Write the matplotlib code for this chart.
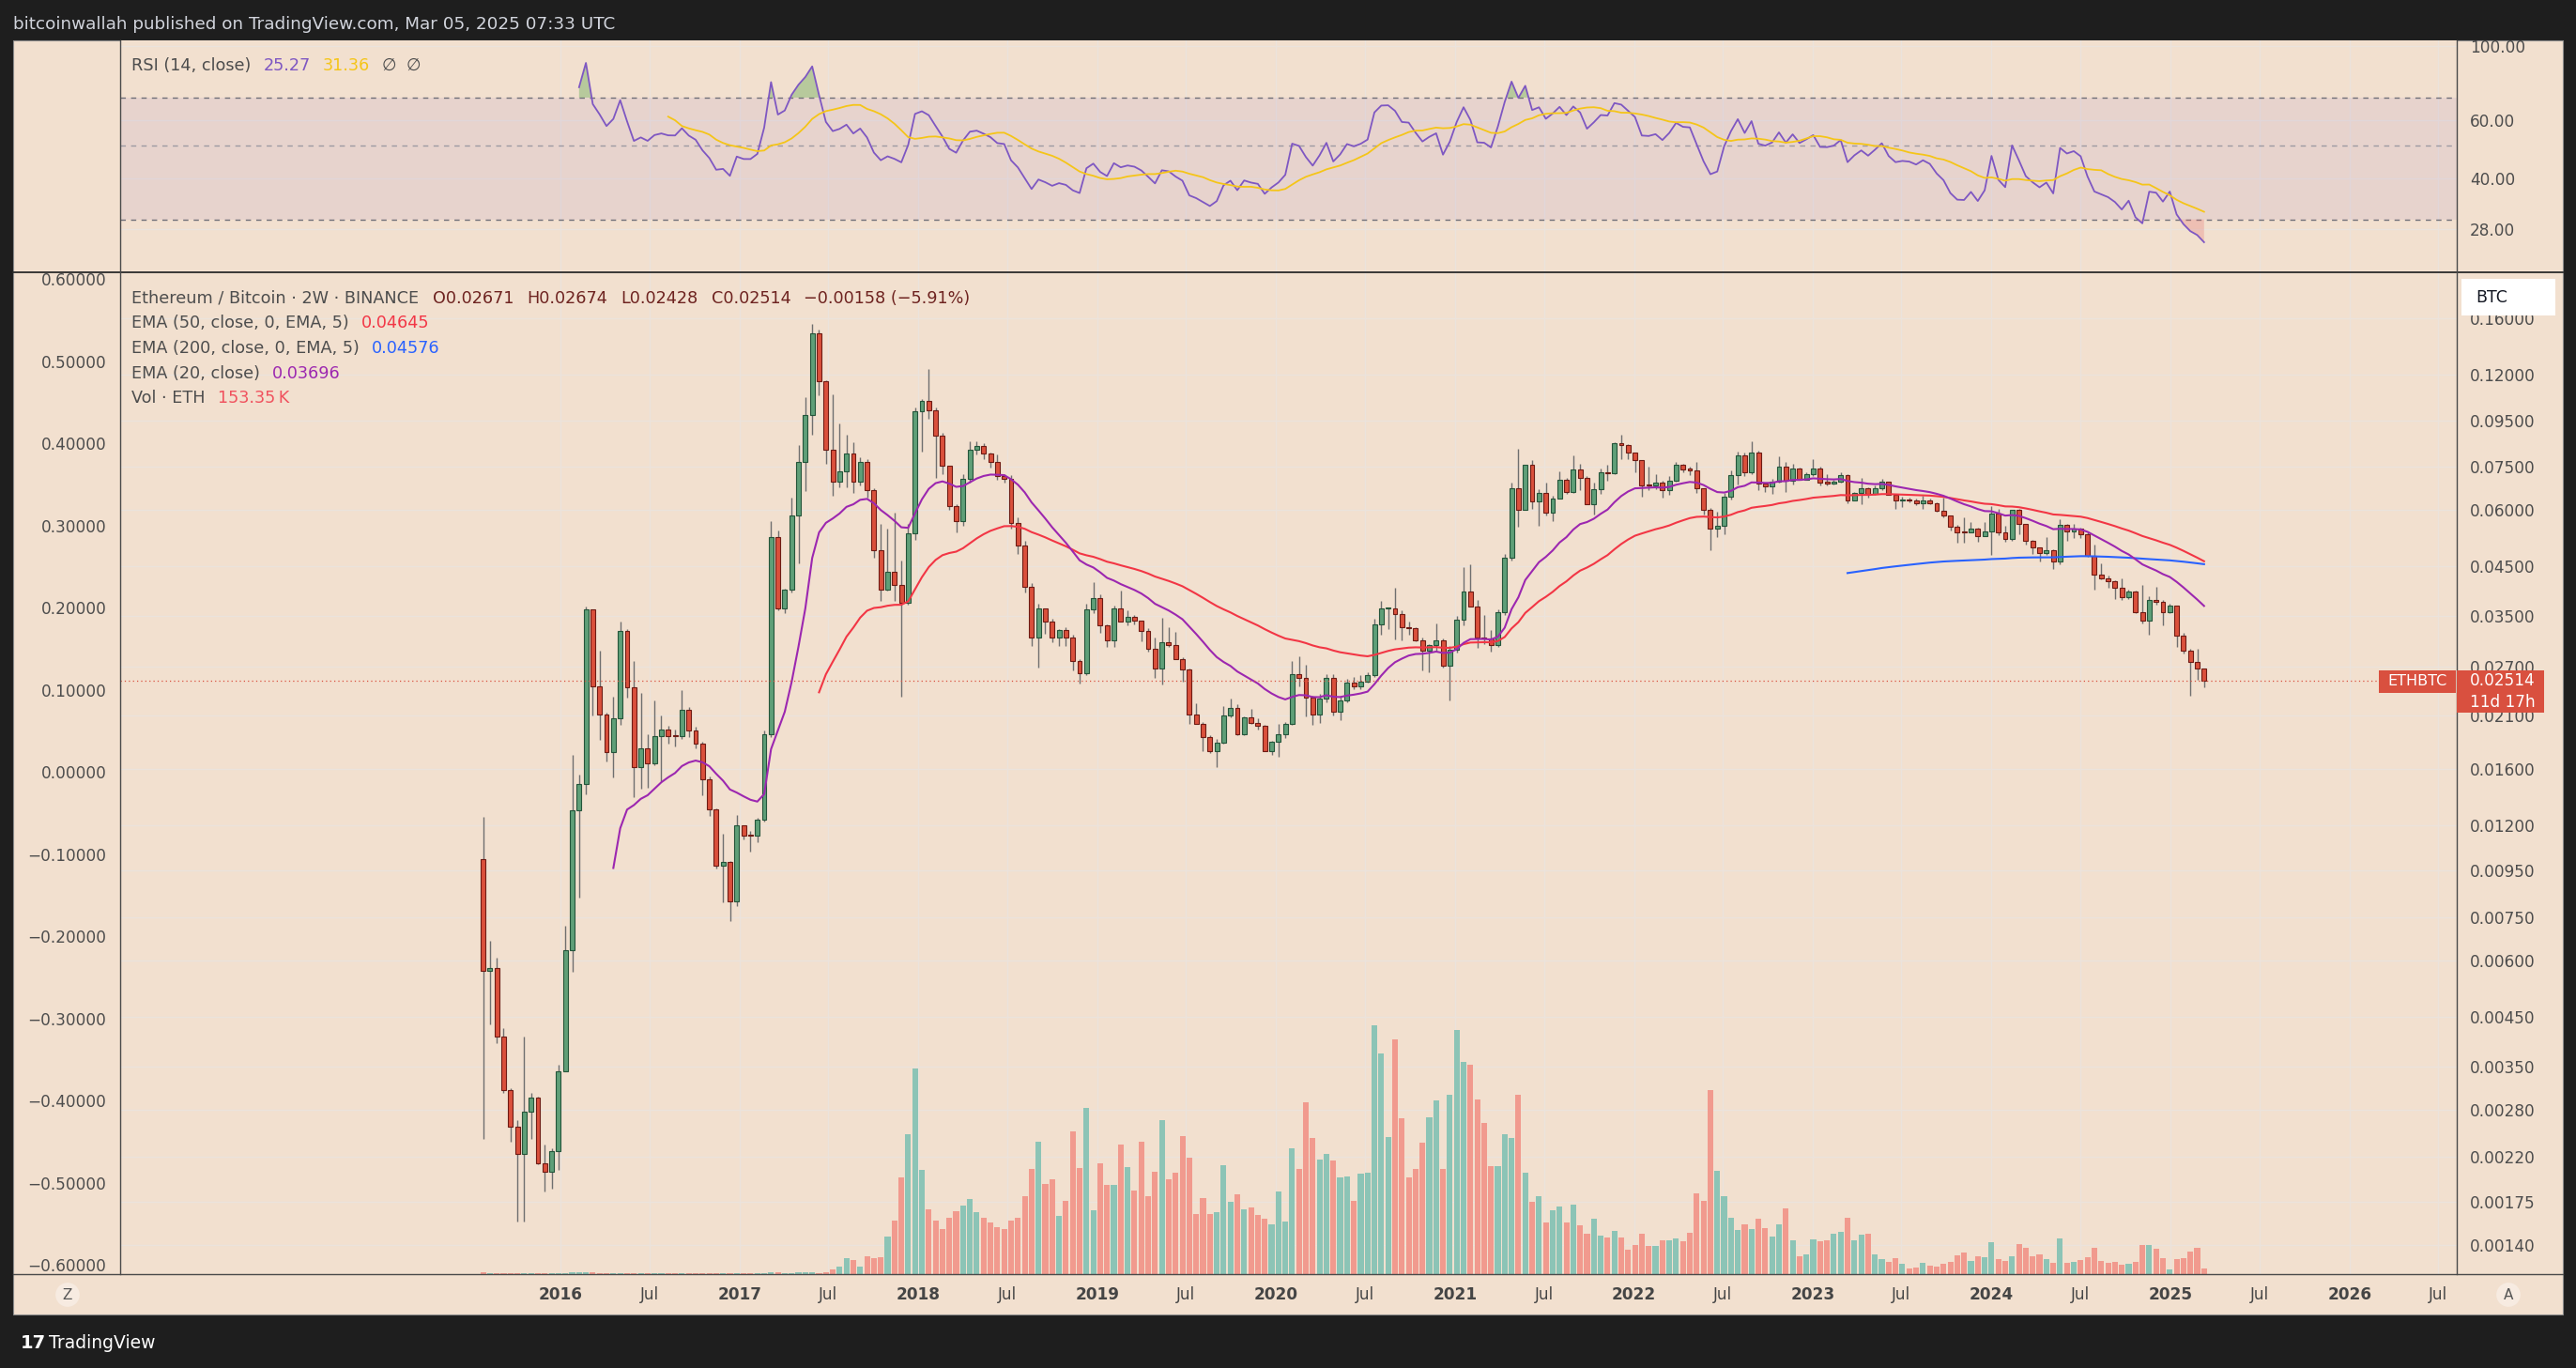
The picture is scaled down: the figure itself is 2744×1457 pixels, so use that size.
import numpy as np
import pandas as pd
import matplotlib
matplotlib.use("Agg")
import matplotlib.pyplot as plt
import matplotlib.dates as mdates
from matplotlib.patches import Rectangle
from matplotlib.lines import Line2D
from matplotlib.ticker import FixedLocator, NullLocator, FixedFormatter

# ---------------- data ----------------
first_bar_start = "2015-07-20"
bar_length_days = 14
first_open = 0.01007

close = [
    0.00569, 0.00577, 0.00407, 0.00309, 0.00257, 0.00224, 0.00277, 0.00298, 0.00213, 0.00204,
    0.00227, 0.00341, 0.00632, 0.01293, 0.01479, 0.03607, 0.02437, 0.02111, 0.01745, 0.02067,
    0.03240, 0.02426, 0.01618, 0.01779, 0.01643, 0.01889, 0.01959, 0.01894, 0.01890, 0.02161,
    0.01942, 0.01820, 0.01520, 0.01303, 0.00976, 0.00993, 0.00814, 0.01198, 0.01136, 0.01135,
    0.01235, 0.01908, 0.05223, 0.03630, 0.03996, 0.05839, 0.07680, 0.09760, 0.14830, 0.11590,
    0.08190, 0.06960, 0.07330, 0.08020, 0.06960, 0.07680, 0.06650, 0.04890, 0.03996, 0.04370,
    0.04100, 0.03747, 0.05337, 0.09930, 0.10480, 0.10020, 0.08770, 0.07550, 0.06130, 0.05690,
    0.07050, 0.08190, 0.08330, 0.08020, 0.07680, 0.07130, 0.07050, 0.05630, 0.05000, 0.04066,
    0.03124, 0.03630, 0.03404, 0.03130, 0.03250, 0.03130, 0.02776, 0.02603, 0.03607, 0.03828,
    0.03330, 0.03091, 0.03627, 0.03402, 0.03474, 0.03415, 0.03243, 0.02961, 0.02676, 0.03052,
    0.03008, 0.02808, 0.02655, 0.02116, 0.02017, 0.01880, 0.01752, 0.01829, 0.02098, 0.02181,
    0.01913, 0.02079, 0.02023, 0.01991, 0.01752, 0.01838, 0.01906, 0.02014, 0.02593, 0.02543,
    0.02300, 0.02112, 0.02295, 0.02551, 0.02140, 0.02274, 0.02491, 0.02443, 0.02495, 0.02580,
    0.03343, 0.03627, 0.03639, 0.03524, 0.03295, 0.03282, 0.03091, 0.02923, 0.03017, 0.03091,
    0.02707, 0.02946, 0.03429, 0.03961, 0.03668, 0.03126, 0.03116, 0.03008, 0.03569, 0.04707,
    0.06714, 0.06022, 0.07557, 0.06268, 0.06545, 0.05927, 0.06379, 0.07010, 0.06577, 0.07390,
    0.07067, 0.06198, 0.06672, 0.07273, 0.07249, 0.08439, 0.08359, 0.08044, 0.07742, 0.06823,
    0.06800, 0.06899, 0.06640, 0.06988, 0.07557, 0.07390, 0.07366, 0.06703, 0.06003, 0.05454,
    0.05533, 0.06420, 0.07169, 0.07930, 0.07273, 0.08044, 0.06867, 0.06769, 0.06932, 0.07486,
    0.06988, 0.07433, 0.07021, 0.07204, 0.07414, 0.06899, 0.06890, 0.06950, 0.07169, 0.06319,
    0.06545, 0.06714, 0.06524, 0.06714, 0.06932, 0.06503, 0.06298, 0.06330, 0.06310, 0.06228,
    0.06319, 0.06228, 0.05993, 0.05832, 0.05524, 0.05367, 0.05360, 0.05454, 0.05265, 0.05384,
    0.05899, 0.05350, 0.05173, 0.06003, 0.05586, 0.05132, 0.04955, 0.04814, 0.04892, 0.04611,
    0.05559, 0.05393, 0.05454, 0.05316, 0.04760, 0.04325, 0.04243, 0.04168, 0.04043, 0.03855,
    0.03961, 0.03558, 0.03413, 0.03787, 0.03763, 0.03558, 0.03680, 0.03156, 0.02923, 0.02759,
    0.02671, 0.02514,
]

high = [
    0.01252, 0.00665, 0.00610, 0.00425, 0.00312, 0.00265, 0.00407, 0.00306, 0.00299, 0.00234,
    0.00230, 0.00353, 0.00718, 0.01719, 0.01554, 0.03669, 0.03620, 0.02930, 0.02130, 0.02314,
    0.03404, 0.03276, 0.02776, 0.02364, 0.01908, 0.02275, 0.02102, 0.01990, 0.01960, 0.02389,
    0.02190, 0.01980, 0.01840, 0.01540, 0.01310, 0.01146, 0.01000, 0.01265, 0.01200, 0.01166,
    0.01245, 0.01950, 0.05690, 0.05400, 0.04010, 0.06402, 0.08370, 0.10710, 0.15580, 0.15090,
    0.11650, 0.10870, 0.09350, 0.08830, 0.08490, 0.07850, 0.07800, 0.06700, 0.05590, 0.05450,
    0.05940, 0.04640, 0.05600, 0.10150, 0.10600, 0.12360, 0.10160, 0.08930, 0.07550, 0.06180,
    0.07200, 0.08550, 0.08550, 0.08450, 0.08050, 0.07980, 0.07200, 0.07180, 0.05800, 0.05120,
    0.04130, 0.03720, 0.03630, 0.03440, 0.03270, 0.03300, 0.03180, 0.02800, 0.03720, 0.04155,
    0.03900, 0.03350, 0.03680, 0.03970, 0.03600, 0.03520, 0.03420, 0.03280, 0.03126, 0.03470,
    0.03295, 0.03220, 0.02830, 0.02670, 0.02234, 0.02030, 0.01900, 0.01860, 0.02210, 0.02290,
    0.02230, 0.02090, 0.02170, 0.02070, 0.02000, 0.01850, 0.02010, 0.02030, 0.02780, 0.02840,
    0.02730, 0.02330, 0.02350, 0.02600, 0.02600, 0.02330, 0.02540, 0.02560, 0.02580, 0.02620,
    0.03450, 0.03770, 0.03650, 0.04040, 0.03600, 0.03400, 0.03300, 0.03130, 0.03020, 0.03364,
    0.03120, 0.03000, 0.03500, 0.04487, 0.04557, 0.03800, 0.03510, 0.03250, 0.03620, 0.04800,
    0.06900, 0.08200, 0.07570, 0.07750, 0.06690, 0.06900, 0.06450, 0.07330, 0.07070, 0.07930,
    0.07600, 0.07150, 0.06900, 0.07410, 0.07570, 0.08490, 0.08813, 0.08410, 0.08060, 0.07760,
    0.07500, 0.07200, 0.06980, 0.07130, 0.07680, 0.07600, 0.07510, 0.07690, 0.06730, 0.06070,
    0.05960, 0.06550, 0.07350, 0.08110, 0.08050, 0.08535, 0.08130, 0.06900, 0.07040, 0.07900,
    0.07680, 0.07590, 0.07480, 0.07300, 0.07800, 0.07500, 0.07230, 0.07000, 0.07300, 0.07200,
    0.06580, 0.07070, 0.06760, 0.06800, 0.07050, 0.06950, 0.06520, 0.06420, 0.06410, 0.06380,
    0.06450, 0.06370, 0.06240, 0.06400, 0.05850, 0.05560, 0.05800, 0.05650, 0.05480, 0.05650,
    0.06120, 0.06030, 0.05550, 0.06010, 0.06030, 0.05600, 0.05150, 0.04960, 0.05220, 0.04920,
    0.05720, 0.05600, 0.05600, 0.05500, 0.05350, 0.05030, 0.04570, 0.04300, 0.04200, 0.04230,
    0.04000, 0.03980, 0.04090, 0.03870, 0.04060, 0.03790, 0.03720, 0.03690, 0.03210, 0.02950,
    0.02960, 0.02674,
]

low = [
    0.00241, 0.00434, 0.00393, 0.00306, 0.00238, 0.00158, 0.00158, 0.00241, 0.00212, 0.00184,
    0.00187, 0.00206, 0.00341, 0.00568, 0.00830, 0.01407, 0.02102, 0.01857, 0.01660, 0.01534,
    0.02000, 0.02300, 0.01384, 0.01445, 0.01455, 0.01630, 0.01505, 0.01820, 0.01792, 0.01860,
    0.01880, 0.01780, 0.01399, 0.01256, 0.00962, 0.00807, 0.00736, 0.00792, 0.01118, 0.01048,
    0.01100, 0.01220, 0.01880, 0.03590, 0.03550, 0.03940, 0.04570, 0.06610, 0.08830, 0.10800,
    0.07600, 0.06460, 0.06760, 0.06760, 0.06540, 0.06800, 0.06400, 0.04700, 0.03770, 0.03980,
    0.03770, 0.02314, 0.03710, 0.05150, 0.08100, 0.09600, 0.07080, 0.07200, 0.06000, 0.05360,
    0.05550, 0.06900, 0.08000, 0.07800, 0.07450, 0.07000, 0.06900, 0.05450, 0.04800, 0.03950,
    0.03005, 0.02689, 0.03190, 0.03050, 0.03000, 0.03000, 0.02650, 0.02470, 0.02580, 0.03550,
    0.03200, 0.02980, 0.02990, 0.03390, 0.03330, 0.03350, 0.03070, 0.02910, 0.02550, 0.02460,
    0.02980, 0.02800, 0.02500, 0.02010, 0.02010, 0.01752, 0.01735, 0.01612, 0.01820, 0.02080,
    0.01900, 0.01900, 0.02010, 0.01960, 0.01750, 0.01720, 0.01700, 0.01870, 0.02000, 0.02440,
    0.02090, 0.02000, 0.02020, 0.02250, 0.02100, 0.02050, 0.02250, 0.02400, 0.02400, 0.02490,
    0.02560, 0.03180, 0.03270, 0.03100, 0.03090, 0.03170, 0.03070, 0.02650, 0.02620, 0.02910,
    0.02680, 0.02272, 0.02900, 0.03330, 0.03660, 0.02970, 0.03030, 0.02920, 0.02990, 0.03510,
    0.04640, 0.05520, 0.06000, 0.06030, 0.05540, 0.05850, 0.05680, 0.06360, 0.06520, 0.06550,
    0.06650, 0.06180, 0.05870, 0.06510, 0.06980, 0.07220, 0.07810, 0.07810, 0.07300, 0.06440,
    0.06650, 0.06680, 0.06400, 0.06480, 0.06950, 0.07300, 0.07180, 0.06550, 0.05860, 0.04900,
    0.05240, 0.05310, 0.06350, 0.06840, 0.07150, 0.07200, 0.06650, 0.06600, 0.06530, 0.06900,
    0.06600, 0.06840, 0.07000, 0.07000, 0.07150, 0.06800, 0.06800, 0.06850, 0.06900, 0.06210,
    0.06300, 0.06200, 0.06400, 0.06500, 0.06650, 0.06500, 0.06050, 0.06100, 0.06250, 0.06170,
    0.06050, 0.06200, 0.05960, 0.05790, 0.05400, 0.05080, 0.05080, 0.05350, 0.05100, 0.05260,
    0.04780, 0.05270, 0.05100, 0.05140, 0.05300, 0.05040, 0.04800, 0.04620, 0.04770, 0.04450,
    0.04560, 0.05140, 0.05200, 0.05200, 0.04720, 0.04005, 0.04210, 0.04030, 0.03810, 0.03800,
    0.03820, 0.03550, 0.03360, 0.03180, 0.03700, 0.03330, 0.03550, 0.02980, 0.02880, 0.02329,
    0.02520, 0.02428,
]

volume_k = [
    40, 35, 30, 30, 28, 30, 35, 25, 30, 28,
    25, 30, 35, 45, 40, 50, 40, 30, 28, 25,
    35, 30, 28, 25, 25, 28, 25, 22, 22, 25,
    22, 22, 25, 28, 30, 25, 25, 28, 22, 20,
    22, 28, 45, 40, 35, 38, 40, 42, 40, 38,
    45, 130, 206, 434, 384, 206, 487, 443, 460, 1024,
    1457, 2633, 3804, 5592, 2834, 1761, 1457, 1225, 1533, 1712,
    1864, 2043, 1685, 1533, 1404, 1278, 1225, 1457, 1533, 2119,
    2861, 3603, 2454, 2579, 1582, 1994, 3884, 2888, 4519, 1739,
    3013, 2427, 2427, 3527, 2910, 2275, 3603, 2119, 2785, 4188,
    2579, 2758, 3755, 3169, 1636, 2070, 1636, 1685, 2964, 1967,
    2172, 1761, 1815, 1609, 1506, 1354, 2248, 1430, 3424, 2861,
    4676, 3706, 3116, 3268, 3089, 2633, 2655, 1994, 2731, 2758,
    6768, 6003, 3728, 6388, 4242, 2633, 2861, 3576, 4264, 4725,
    2861, 4877, 6642, 5771, 5695, 4752, 4112, 2937, 2937, 3804,
    3706, 4877, 2758, 1967, 2119, 1404, 1739, 1837, 1404, 1891,
    1328, 1100, 1506, 1046, 997, 1176, 997, 666, 791, 1100,
    764, 764, 921, 921, 970, 894, 1122, 2195, 1994, 5006,
    2812, 2119, 1533, 1202, 1354, 1225, 1506, 1252, 1024, 1354,
    1788, 921, 487, 536, 943, 894, 921, 1100, 1149, 1533,
    921, 1073, 1100, 536, 407, 331, 434, 282, 152, 179,
    308, 228, 206, 282, 331, 510, 586, 358, 487, 460,
    867, 407, 358, 487, 818, 715, 487, 536, 407, 308,
    970, 308, 331, 384, 460, 715, 358, 308, 331, 255,
    282, 331, 791, 791, 688, 434, 130, 407, 434, 612,
    715, 153.35,
]

ema_lengths = {"fast": 20, "mid": 50, "slow": 200}
rsi_length = 14
rsi_ma_length = 14
last_price = 0.02514

price_ticks = [0.16, 0.12, 0.095, 0.075, 0.06, 0.045, 0.035, 0.027, 0.021, 0.016,
               0.012, 0.0095, 0.0075, 0.006, 0.0045, 0.0035, 0.0028, 0.0022, 0.00175, 0.0014]
left_ticks = [0.6, 0.5, 0.4, 0.3, 0.2, 0.1, 0.0, -0.1, -0.2, -0.3, -0.4, -0.5, -0.6]
rsi_ticks = [100, 60, 40, 28]
rsi_levels = [70, 50, 30]
time_tick_dates = []
time_tick_labels = []
for yr in range(2016, 2027):
    time_tick_dates += [f"{yr}-01-01", f"{yr}-07-01"]
    time_tick_labels += [str(yr), "Jul"]

header_text = "bitcoinwallah published on TradingView.com, Mar 05, 2025 07:33 UTC"
symbol_text = "Ethereum / Bitcoin · 2W · BINANCE"
ohlc_text = ["O0.02671", "H0.02674", "L0.02428", "C0.02514", "\u22120.00158 (\u22125.91%)"]
ema_legend = [("EMA (50, close, 0, EMA, 5)", "0.04645"),
              ("EMA (200, close, 0, EMA, 5)", "0.04576"),
              ("EMA (20, close)", "0.03696")]
vol_legend = ("Vol · ETH", "153.35\u2009K")
rsi_legend = ("RSI (14, close)", "25.27", "31.36")

# ---------------- styling ----------------
W, H, DPI = 2744, 1457, 100
BG = "#f2e0cf"
DARK = "#1e1e1e"
GRID = "#ebe3dc"
TXT = "#4d4d4d"
UP_FILL, UP_EDGE = "#5f9f78", "#24553a"
DN_FILL, DN_EDGE = "#da503c", "#6e1b14"
WICK = "#6f6f6f"
VOL_UP, VOL_DN = "#8cc4b6", "#f19a8e"
C_EMA20, C_EMA50, C_EMA200 = "#9c27b0", "#f23645", "#2962ff"
C_RSI, C_RSIMA = "#7e57c2", "#f5c518"
LABEL_RED = "#d9503f"
FS_AX = 12.2
FS_LEG = 12.7

PX_L, PX_R = 128, 2617          # plot area x (pixels)
RSI_T, RSI_B = 43, 290          # rsi pane y (pixels)
MAIN_T, MAIN_B = 290, 1357      # main pane y (pixels)

def fx(x):
    return x / W

def fy(y):
    return 1 - y / H

# ---------------- derived series ----------------
n = len(close)
starts = pd.date_range(first_bar_start, periods=n, freq=f"{bar_length_days}D")
xd = mdates.date2num(starts + pd.Timedelta(days=bar_length_days / 2))
c = np.array(close, float)
hi = np.array(high, float)
lo = np.array(low, float)
o = np.concatenate([[first_open], c[:-1]])
up = c >= o
vol = np.array(volume_k, float)


def ema_tv(values, length):
    v = np.asarray(values, float)
    out = np.full(len(v), np.nan)
    out[length - 1] = v[:length].mean()
    a = 2.0 / (length + 1)
    for i in range(length, len(v)):
        out[i] = a * v[i] + (1 - a) * out[i - 1]
    return out


def rsi_tv(values, length):
    v = np.asarray(values, float)
    d = np.diff(v)
    g = np.maximum(d, 0)
    ls = np.maximum(-d, 0)
    out = np.full(len(v), np.nan)
    ag, al = g[:length].mean(), ls[:length].mean()
    out[length] = 100.0 if al == 0 else 100 - 100 / (1 + ag / al)
    for i in range(length + 1, len(v)):
        ag = (ag * (length - 1) + g[i - 1]) / length
        al = (al * (length - 1) + ls[i - 1]) / length
        out[i] = 100.0 if al == 0 else 100 - 100 / (1 + ag / al)
    return out


ema20 = ema_tv(c, ema_lengths["fast"])
ema50 = ema_tv(c, ema_lengths["mid"])
ema200 = ema_tv(c, ema_lengths["slow"])
rsi = rsi_tv(c, rsi_length)
rsi_ma = pd.Series(rsi).rolling(rsi_ma_length).mean().to_numpy()

x_left = mdates.date2num(pd.Timestamp("2013-07-16"))
x_right = mdates.date2num(pd.Timestamp("2026-08-08"))
price_lim = (0.001209, 0.2025)
rsi_lim = (20.78, 104.2)
left_lim = (-0.6111, 0.6083)
tick_x = mdates.date2num(pd.to_datetime(time_tick_dates))

# ---------------- figure ----------------
fig = plt.figure(figsize=(W / DPI, H / DPI), dpi=DPI, facecolor=DARK)
fig.patches.append(Rectangle((fx(14), fy(1400)), (2730 - 14) / W, (1400 - 43) / H,
                             transform=fig.transFigure, facecolor=BG,
                             edgecolor="#8a8a8a", lw=0.8, zorder=-10))

# RSI pane
ax_r = fig.add_axes([fx(PX_L), fy(RSI_B), (PX_R - PX_L) / W, (RSI_B - RSI_T) / H])
ax_r.set_facecolor(BG)
ax_r.set_yscale("log")
ax_r.set_ylim(*rsi_lim)
ax_r.set_xlim(x_left, x_right)
for s in ax_r.spines.values():
    s.set_visible(False)
ax_r.yaxis.set_major_locator(FixedLocator(rsi_ticks))
ax_r.yaxis.set_major_formatter(FixedFormatter([f"{t:.2f}" for t in rsi_ticks]))
ax_r.yaxis.set_minor_locator(NullLocator())
ax_r.yaxis.tick_right()
ax_r.tick_params(axis="y", which="both", length=0, pad=10, labelsize=FS_AX, labelcolor=TXT)
ax_r.set_xticks([])
for t in rsi_ticks:
    ax_r.axhline(t, color=GRID, lw=1.0, zorder=0)
for t in tick_x:
    ax_r.axvline(t, color=GRID, lw=1.0, zorder=0)
ax_r.axhspan(rsi_levels[2], rsi_levels[0], color=C_RSI, alpha=0.09, lw=0, zorder=1)
ax_r.axhline(rsi_levels[0], color="#6f6f78", lw=1.0, ls=(0, (4, 4)), zorder=2)
ax_r.axhline(rsi_levels[1], color="#9d9aa3", lw=1.0, ls=(0, (4, 4)), zorder=2)
ax_r.axhline(rsi_levels[2], color="#6f6f78", lw=1.0, ls=(0, (4, 4)), zorder=2)
mask = ~np.isnan(rsi)
ax_r.fill_between(xd[mask], rsi_levels[0], rsi[mask], where=rsi[mask] > rsi_levels[0],
                  interpolate=True, color="#6fae5e", alpha=0.45, lw=0, zorder=3)
ax_r.fill_between(xd[mask], rsi_levels[2], rsi[mask], where=rsi[mask] < rsi_levels[2],
                  interpolate=True, color="#e57373", alpha=0.30, lw=0, zorder=3)
ax_r.plot(xd, rsi, color=C_RSI, lw=1.3, zorder=4)
ax_r.plot(xd, rsi_ma, color=C_RSIMA, lw=1.3, zorder=4)

# Main pane: base axes with grid
ax_g = fig.add_axes([fx(PX_L), fy(MAIN_B), (PX_R - PX_L) / W, (MAIN_B - MAIN_T) / H])
ax_g.set_facecolor(BG)
ax_g.set_yscale("log")
ax_g.set_ylim(*price_lim)
ax_g.set_xlim(x_left, x_right)
for s in ax_g.spines.values():
    s.set_visible(False)
ax_g.yaxis.set_major_locator(FixedLocator(price_ticks))
ax_g.yaxis.set_major_formatter(FixedFormatter([f"{t:.5f}" for t in price_ticks]))
ax_g.yaxis.set_minor_locator(NullLocator())
ax_g.set_xticks([])
for t in price_ticks:
    ax_g.axhline(t, color=GRID, lw=1.0, zorder=0)
for t in tick_x:
    ax_g.axvline(t, color=GRID, lw=1.0, zorder=0)

# volume overlay
ax_v = ax_g.twinx()
ax_v.patch.set_visible(False)
for s in ax_v.spines.values():
    s.set_visible(False)
ax_v.set_yticks([])
ax_v.set_ylim(0, vol.max() * 4.03)
ax_v.bar(xd, vol, width=11.7, color=np.where(up, VOL_UP, VOL_DN), lw=0, zorder=1)
ax_v.set_xlim(x_left, x_right)

# candles + EMAs
ax_c = ax_g.twinx()
ax_c.patch.set_visible(False)
for s in ax_c.spines.values():
    s.set_visible(False)
ax_c.set_yscale("log")
ax_c.set_ylim(*price_lim)
ax_c.yaxis.set_major_locator(NullLocator())
ax_c.yaxis.set_minor_locator(NullLocator())
ax_c.set_xlim(x_left, x_right)
ax_c.vlines(xd, lo, hi, color=WICK, lw=1.0, zorder=2)
body_lo = np.minimum(o, c)
body_h = np.maximum(np.abs(c - o), body_lo * 0.006)
ax_c.bar(xd, body_h, bottom=body_lo, width=9.4,
         color=np.where(up, UP_FILL, DN_FILL),
         edgecolor=np.where(up, UP_EDGE, DN_EDGE), lw=0.8, zorder=3)
ax_c.plot(xd, ema200, color=C_EMA200, lw=1.5, zorder=4)
ax_c.plot(xd, ema50, color=C_EMA50, lw=1.5, zorder=4)
ax_c.plot(xd, ema20, color=C_EMA20, lw=1.5, zorder=4)
ax_c.axhline(last_price, color=LABEL_RED, lw=0.9, ls=(0, (1, 2.5)), zorder=5)

# left linear scale
ax_l = ax_g.twinx()
ax_l.patch.set_visible(False)
for s in ax_l.spines.values():
    s.set_visible(False)
ax_l.set_ylim(*left_lim)
ax_l.yaxis.set_ticks_position("left")
ax_l.set_yticks(left_ticks)
ax_l.set_yticklabels([f"{t:.5f}".replace("-", "\u2212") for t in left_ticks])
ax_l.tick_params(axis="y", length=0, pad=10.5, labelsize=FS_AX, labelcolor=TXT)
ax_l.set_xlim(x_left, x_right)

# twinx moved the base ticks to the left: put the price scale back on the right
ax_g.yaxis.tick_right()
ax_g.yaxis.set_label_position("right")
ax_g.tick_params(axis="y", which="both", left=False, labelleft=False, right=False,
                 labelright=True, length=0, pad=10, labelsize=FS_AX, labelcolor=TXT)

# time axis labels
tr = ax_g.get_xaxis_transform()
yt = -(1379 - MAIN_B) / (MAIN_B - MAIN_T)
for t, lab in zip(tick_x, time_tick_labels):
    ax_g.text(t, yt, lab, transform=tr, ha="center", va="center", fontsize=12.2,
              color="#454545", fontweight="bold" if lab != "Jul" else "normal", clip_on=False)

# separators
def hline(y, x0, x1, color, lw):
    fig.lines.append(Line2D([fx(x0), fx(x1)], [fy(y), fy(y)], transform=fig.transFigure,
                            color=color, lw=lw, zorder=6))

def vline(x, y0, y1, color, lw):
    fig.lines.append(Line2D([fx(x), fx(x)], [fy(y0), fy(y1)], transform=fig.transFigure,
                            color=color, lw=lw, zorder=6))

hline(290, 14, 2730, "#2b2b2b", 1.3)
hline(1357, 14, 2730, "#4a4a4a", 1.0)
vline(PX_L, 43, 1357, "#4a4a4a", 1.0)
vline(PX_R, 43, 1357, "#4a4a4a", 1.0)

# header and footer
fig.text(fx(14), fy(31), header_text, color="#d1d4dc", fontsize=13.2, va="baseline")
fig.text(fx(22), fy(1430), "17", color="white", fontsize=14, fontweight="bold", va="center")
fig.text(fx(52), fy(1430), "TradingView", color="white", fontsize=13.5, va="center")
for xx, ch in [(72, "Z"), (2672, "A")]:
    fig.text(fx(xx), fy(1379), ch, color="#555555", fontsize=11, ha="center", va="center",
             bbox=dict(boxstyle="circle,pad=0.35", fc="#f7ebe1", ec="none"))

# legends (chained text)
renderer = fig.canvas.get_renderer()

def chain(x, y, parts, size=FS_LEG):
    for s, color, gap in parts:
        t = fig.text(fx(x), fy(y), s, color=color, fontsize=size, va="baseline", ha="left", zorder=7)
        bb = t.get_window_extent(renderer)
        x = bb.x1 + gap

chain(140, 75, [(rsi_legend[0], TXT, 13), (rsi_legend[1], C_RSI, 13),
                (rsi_legend[2], C_RSIMA, 13), ("\u2205", TXT, 11), ("\u2205", TXT, 11)])
OHLC_C = "#6e2320"
chain(140, 322.7, [(symbol_text, TXT, 15)] + [(s, OHLC_C, 14) for s in ohlc_text])
chain(140, 349.3, [(ema_legend[0][0], TXT, 13), (ema_legend[0][1], C_EMA50, 0)])
chain(140, 376.0, [(ema_legend[1][0], TXT, 13), (ema_legend[1][1], C_EMA200, 0)])
chain(140, 402.7, [(ema_legend[2][0], TXT, 13), (ema_legend[2][1], C_EMA20, 0)])
chain(140, 429.3, [(vol_legend[0], TXT, 13), (vol_legend[1], "#f0525e", 0)])

# BTC currency box
fig.patches.append(Rectangle((fx(2622), fy(336)), 100 / W, 39 / H, transform=fig.transFigure,
                             facecolor="white", edgecolor="none", zorder=7))
fig.text(fx(2637), fy(317), "BTC", color="#131722", fontsize=12.5, va="center", zorder=8)

# last price labels
fig.patches.append(Rectangle((fx(2534), fy(737.5)), 82 / W, 24 / H, transform=fig.transFigure,
                             facecolor=LABEL_RED, edgecolor="none", zorder=7))
fig.text(fx(2575), fy(725.5), "ETHBTC", color="white", fontsize=11.5, ha="center", va="center", zorder=8)
fig.patches.append(Rectangle((fx(2617), fy(759)), 93 / W, 45.5 / H, transform=fig.transFigure,
                             facecolor=LABEL_RED, edgecolor="none", zorder=7))
fig.text(fx(2631), fy(725.5), f"{last_price:.5f}", color="white", fontsize=12.2, va="center", zorder=8)
fig.text(fx(2631), fy(748), "11d 17h", color="white", fontsize=12.2, va="center", zorder=8)

fig.savefig("out.png", dpi=DPI, facecolor=DARK)
